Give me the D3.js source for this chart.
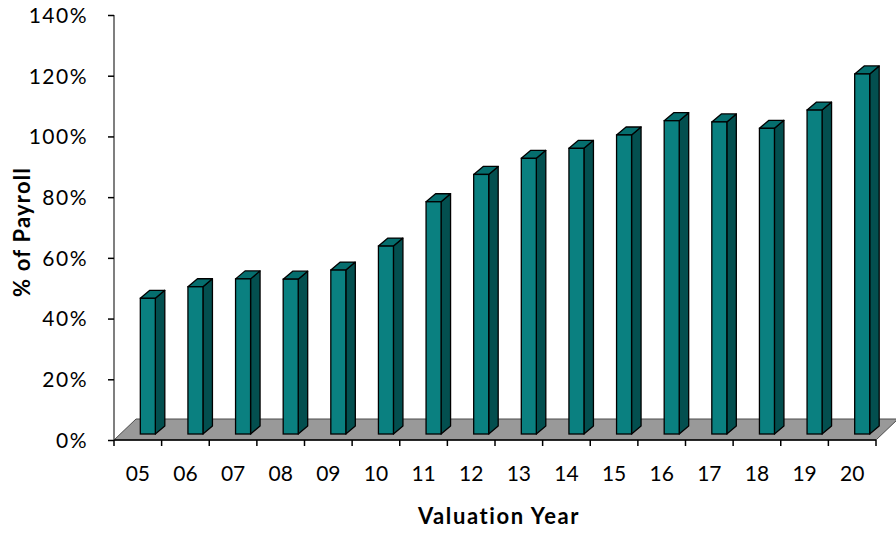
<!DOCTYPE html>
<html>
<head>
<meta charset="utf-8">
<script src="https://cdn.jsdelivr.net/npm/d3@7"></script>
<style>
  body { margin: 0; background: #fff; }
  text { font-family: Lato, "Open Sans", sans-serif; fill: #000; }
</style>
</head>
<body>
<svg id="chart"></svg>
<script>
(function () {
  'use strict';

  var years = ["05", "06", "07", "08", "09", "10", "11", "12", "13", "14", "15", "16", "17", "18", "19", "20"];
  var payrollPct = [0.447, 0.485, 0.511, 0.510, 0.540, 0.619, 0.765, 0.855, 0.908, 0.941, 0.985, 1.032, 1.028, 1.007, 1.067, 1.186];
  var yTicks = [0, 0.2, 0.4, 0.6, 0.8, 1.0, 1.2, 1.4];

  var svgW = 896, svgH = 533;
  var axisX = 114, floorY = 440;
  var floorDx = 22, floorDy = 21; // depth of the gray floor
  var barW = 15, barDx = 9.5, barDy = 8; // bar front width + 3d depth
  var barLift = 6; // bars sit a bit back on the floor

  var svg = d3.select("#chart").attr("width", svgW).attr("height", svgH);

  var x = d3.scaleBand().domain(years).range([axisX, 876]);
  var y = d3.scaleLinear().domain([0, 1.4]).range([floorY, 15]);

  // floor
  svg.append("polygon")
    .attr("points", [[axisX, floorY], [axisX + floorDx, floorY - floorDy],
      [x.range()[1] + floorDx, floorY - floorDy], [x.range()[1], floorY]].join(" "))
    .attr("fill", "#999999")
    .attr("stroke", "#4d4d4d")
    .attr("stroke-width", 1);

  // y axis line + ticks
  svg.append("line")
    .attr("x1", axisX).attr("x2", axisX)
    .attr("y1", y(1.4)).attr("y2", floorY)
    .attr("stroke", "#7f7f7f").attr("stroke-width", 2);

  var yAxis = d3.axisLeft(y).tickValues(yTicks).tickFormat(d3.format(".0%"))
    .tickSize(6).tickPadding(20);
  var gy = svg.append("g").attr("transform", "translate(" + axisX + ",0)").call(yAxis);
  gy.select(".domain").remove();
  gy.selectAll("line").attr("stroke", "#000").attr("stroke-width", 1.5);
  gy.selectAll("text").style("font-size", "21px").style("letter-spacing", "1.5px")
    .attr("dy", "0.35em");

  // x axis: front edge of floor with ticks at band edges
  svg.append("line")
    .attr("x1", axisX).attr("x2", x.range()[1])
    .attr("y1", floorY).attr("y2", floorY)
    .attr("stroke", "#000").attr("stroke-width", 1.5);

  svg.selectAll(".xtick").data(years.concat(["end"])).enter()
    .append("line")
    .attr("class", "xtick")
    .attr("x1", function (d, i) { return axisX + i * x.step(); })
    .attr("x2", function (d, i) { return axisX + i * x.step(); })
    .attr("y1", floorY).attr("y2", floorY + 6)
    .attr("stroke", "#000").attr("stroke-width", 1.5);

  svg.selectAll(".xlab").data(years).enter()
    .append("text")
    .attr("class", "xlab")
    .attr("x", function (d) { return x(d) + x.bandwidth() / 2; })
    .attr("y", 481)
    .attr("text-anchor", "middle")
    .style("font-size", "21px")
    .text(function (d) { return d; });

  // bars
  var bars = svg.selectAll(".bar").data(payrollPct).enter()
    .append("g").attr("class", "bar");

  function x0(i) { return x(years[i]) + x.bandwidth() / 2 + 2.5; }
  var base = y(0) - barLift;

  bars.append("polygon") // side
    .attr("points", function (d, i) {
      var l = x0(i) + barW, t = y(d) - barLift;
      return [[l, t], [l + barDx, t - barDy], [l + barDx, base - barDy], [l, base]].join(" ");
    })
    .attr("fill", "#034f4f").attr("stroke", "#000").attr("stroke-width", 1.3)
    .attr("stroke-linejoin", "round");

  bars.append("polygon") // top
    .attr("points", function (d, i) {
      var l = x0(i), t = y(d) - barLift;
      return [[l, t], [l + barDx, t - barDy], [l + barW + barDx, t - barDy], [l + barW, t]].join(" ");
    })
    .attr("fill", "#056e6e").attr("stroke", "#000").attr("stroke-width", 1.3)
    .attr("stroke-linejoin", "round");

  bars.append("rect") // front
    .attr("x", function (d, i) { return x0(i); })
    .attr("y", function (d) { return y(d) - barLift; })
    .attr("width", barW)
    .attr("height", function (d) { return base - (y(d) - barLift); })
    .attr("fill", "#0a8080").attr("stroke", "#000").attr("stroke-width", 1.3);

  // axis titles
  svg.append("text")
    .attr("x", 499).attr("y", 524)
    .attr("text-anchor", "middle")
    .style("font-size", "22px").style("font-weight", "bold")
    .style("letter-spacing", "1.6px")
    .text("Valuation Year");

  svg.append("text")
    .attr("transform", "translate(30,232) rotate(-90)")
    .attr("text-anchor", "middle")
    .style("font-size", "22px").style("font-weight", "bold")
    .style("letter-spacing", "1.2px")
    .text("% of Payroll");
}());
</script>
</body>
</html>
